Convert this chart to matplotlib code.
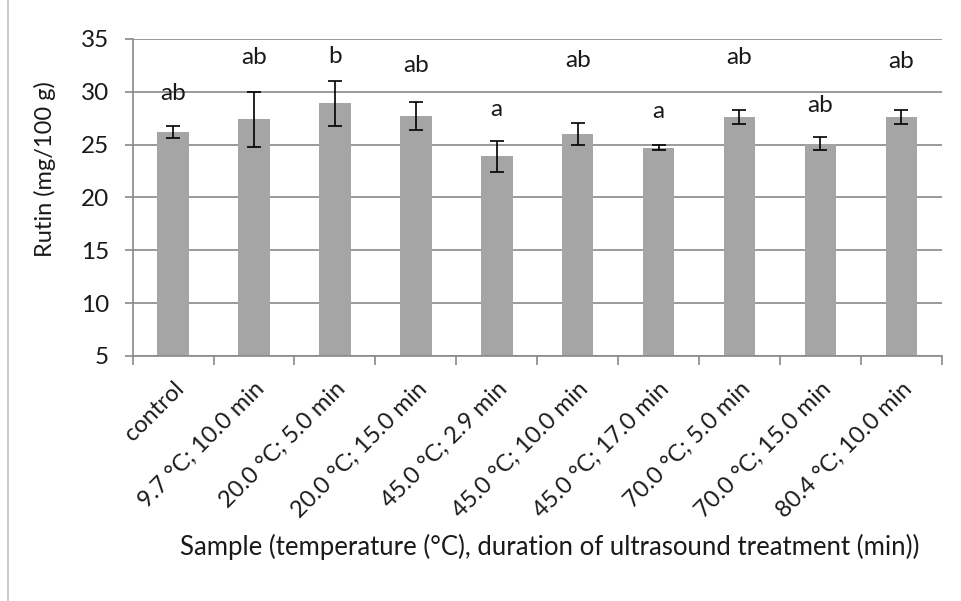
import numpy as np
import matplotlib.pyplot as plt
from matplotlib.lines import Line2D

# data
samples = ["control", "9.7 °C; 10.0 min", "20.0 °C; 5.0 min", "20.0 °C; 15.0 min",
           "45.0 °C; 2.9 min", "45.0 °C; 10.0 min", "45.0 °C; 17.0 min",
           "70.0 °C; 5.0 min", "70.0 °C; 15.0 min", "80.4 °C; 10.0 min"]
rutin = [26.2, 27.4, 28.9, 27.7, 23.9, 26.0, 24.7, 27.6, 25.1, 27.6]
rutin_err = [0.55, 2.6, 2.1, 1.3, 1.45, 1.0, 0.22, 0.63, 0.62, 0.63]
letters = ["ab", "ab", "b", "ab", "a", "ab", "a", "ab", "ab", "ab"]
letter_y = [29.8, 33.2, 33.3, 32.5, 28.3, 33.0, 28.1, 33.2, 28.7, 32.9]

plt.rcParams['font.family'] = ['Lato', 'DejaVu Sans']
grey = '#898989'
txt = '#1a1a1a'

fig = plt.figure(figsize=(9.61, 6.01), dpi=100)
ax = fig.add_axes([0.138, 0.4077, 0.842, 0.5275])

x = np.arange(len(samples))
ax.bar(x, rutin, width=0.39, color='#a5a5a5', zorder=2)
ax.errorbar(x, rutin, yerr=rutin_err, fmt='none', ecolor='black',
            elinewidth=1.2, capsize=5, capthick=1.2, zorder=3)

for xi, lab, yy in zip(x, letters, letter_y):
    ax.text(xi, yy, lab, ha='center', va='center', fontsize=17.5, color=txt)

ax.set_xlim(-0.5, len(samples) - 0.5)
ax.set_ylim(5, 35)
ax.set_yticks(range(5, 36, 5))
ax.yaxis.grid(True, color=grey, linewidth=1.2, zorder=0)
ax.set_axisbelow(True)

ax.set_xticks(x)
ax.set_xticklabels(samples, rotation=45, ha='right', rotation_mode='anchor')
ax.set_xticks(np.arange(-0.5, len(samples)), minor=True)
ax.tick_params(axis='x', which='major', length=0, pad=16, labelsize=17, labelcolor=txt)
ax.tick_params(axis='x', which='minor', length=6.5, width=1.2, color=grey)
ax.tick_params(axis='y', length=6, width=1.2, color=grey, labelsize=17.5,
               labelcolor=txt, pad=11)

for s in ['top', 'right']:
    ax.spines[s].set_visible(False)
for s in ['left', 'bottom']:
    ax.spines[s].set_color(grey)
    ax.spines[s].set_linewidth(1.2)

ax.set_ylabel("Rutin (mg/100 g)", fontsize=17, color=txt)
ax.yaxis.set_label_coords(-0.095, 0.59)
fig.text(0.572, 0.09, "Sample (temperature (°C), duration of ultrasound treatment (min))",
         ha='center', va='center', fontsize=18.5, color=txt)

# border line of the chart frame on the left
fig.add_artist(Line2D([8 / 961, 8 / 961], [0, 1], color='#bfbfbf', linewidth=1.2))

fig.savefig("out.png", dpi=100)
